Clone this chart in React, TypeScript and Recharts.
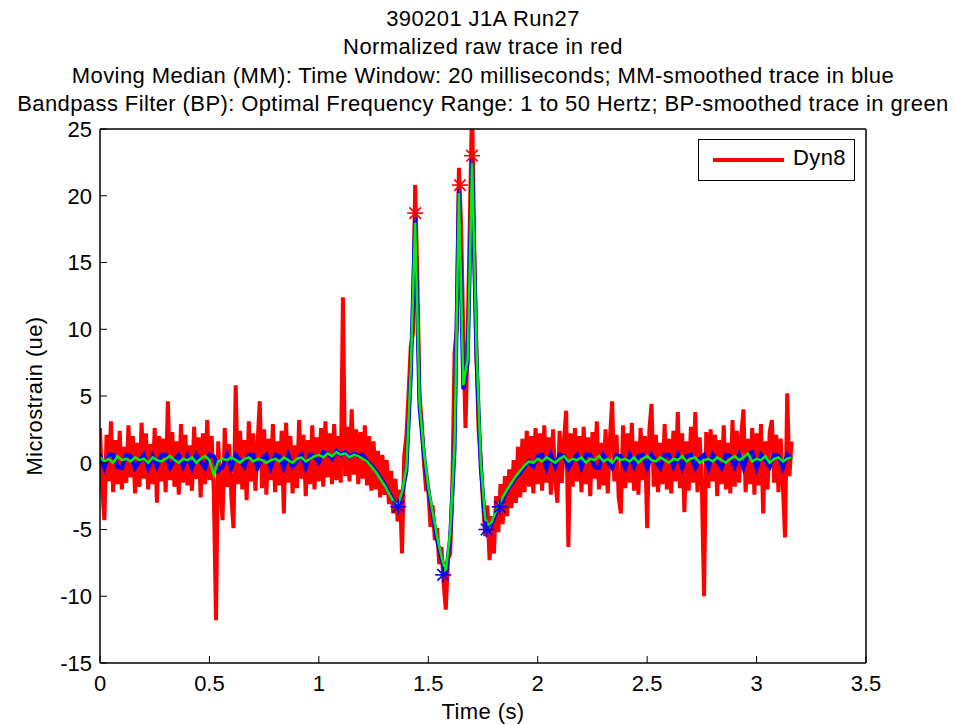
import React from 'react';
import { ComposedChart, Line, Scatter, XAxis, YAxis } from 'recharts';

const FONT = '"Liberation Sans", Arial, Helvetica, sans-serif';

// Raw trace (red), sampled every RAW_DT seconds starting at 0
const RAW_DT = 0.01;
const rawValues: number[] = [
  2.6, -1.9, -4.3, 2.1, -1.4, 3.1, -2.2, 1.7, -1.6, 2.4,
  -2.0, 1.2, -1.5, 2.8, -1.1, 2.0, -2.3, 1.5, -1.8, 3.0,
  -1.2, 2.2, -2.0, 1.4, -1.6, 2.6, -3.0, 2.0, -1.4, 1.8,
  -2.2, 4.6, -1.3, 2.3, -1.8, 1.6, -2.4, 2.9, -1.5, 2.1,
  -1.7, 1.3, -2.1, 2.7, -1.2, 1.9, -2.6, 2.2, -1.6, 3.2,
  -1.3, 2.0, -2.2, -11.8, 1.6, -2.0, -4.3, 2.6, -1.8, 1.4,
  -2.5, -4.9, 5.8, -1.6, 2.4, -2.0, 1.7, -2.8, 3.1, -1.4,
  2.2, -2.1, 1.5, 4.6, -1.9, 2.5, -2.4, 1.8, -1.3, 2.9,
  -2.2, 1.6, -1.7, 2.4, -3.8, 3.0, -1.5, 2.0, -2.3, 1.3,
  -1.9, 3.2, -1.2, 2.1, -2.5, 1.7, -1.6, 2.8, -2.0, 1.9,
  -1.4, 2.6, -1.8, 3.1, -1.1, 2.2, -1.6, 2.9, -1.3, 2.0,
  -1.5, 12.4, -1.0, 2.7, -1.4, 4.0, -0.9, 2.5, -1.6, 2.3,
  -1.2, 2.8, -1.7, 2.0, -2.1, 1.6, -2.0, 0.9, -2.6, 0.6,
  -2.4, 0.2, -3.1, -0.6, -3.8, -1.2, -4.4, -2.0, -6.8, 0.5,
  2.0, 5.2, 8.7, 9.7, 20.8, 13.9, 5.0, 3.0, 0.0, -2.0,
  -2.0, -4.8, -3.2, -5.8, -4.9, -7.6, -6.3, -9.0, -11.0, -7.2,
  -6.8, -1.8, 8.2, 10.0, 22.1, 17.7, 9.4, 2.6, 9.4, 18.2,
  27.0, 16.0, 8.2, 2.5, 0.2, -3.0, -5.5, -3.2, -7.3, -4.0,
  -6.8, -2.5, -5.2, -1.6, -4.6, -1.0, -4.0, -0.5, -3.4, 0.2,
  -3.0, 1.2, -2.6, 1.8, -2.2, 2.4, -1.8, 2.0, -2.3, 2.6,
  -1.6, 2.2, -2.1, 2.8, -1.5, 1.9, -2.4, 2.5, -1.3, -3.0,
  2.4, -1.5, 1.7, 3.9, -6.3, 2.2, -1.8, 2.6, -1.4, 2.0,
  -2.2, 2.7, -1.6, 1.9, -2.5, 2.3, -1.2, 3.1, -2.0, 1.5,
  -1.7, 2.5, -2.3, 1.8, 4.6, -1.4, 2.1, -2.6, -3.8, 2.8,
  -1.9, 2.2, -1.5, 3.0, -2.1, 1.6, -2.4, 2.6, -1.3, 2.0,
  -4.9, 2.4, 4.4, -1.8, 2.1, -2.2, 1.5, -1.6, 2.9, -2.0,
  1.8, -2.3, 2.4, -1.4, 3.8, -1.9, 2.2, -3.7, 1.6, -2.1,
  2.7, -1.5, 3.8, -2.2, 1.9, -1.7, -10.0, 2.3, -1.9, 2.5,
  -1.4, 2.1, -2.5, 1.7, -1.6, 2.8, -2.0, 1.5, -2.3, 3.2,
  -1.8, 2.4, -1.5, 2.0, 4.0, -2.2, 1.8, -1.6, 2.6, -2.4,
  2.2, -1.7, 2.9, -3.8, 1.6, -2.0, 2.3, 3.2, -1.5, 2.1,
  -2.2, 1.8, -1.6, -5.6, 5.2, -1.0, 1.6,
];

// Smoothed traces, sampled every SMOOTH_DT seconds starting at 0
const SMOOTH_DT = 0.02;
const mmValues: number[] = [
  0.6, -0.4, 0.6, 0.6, -0.3, -0.4, 0.6, 0.5, -0.4, 0.1,
  0.6, -0.4, 0.5, -0.3, 0.6, 0.6, -0.4, 0.2, 0.6, -0.3,
  0.5, -0.4, 0.6, 0.1, -0.4, 0.6, 0.5, -0.6, -0.3, 0.6,
  -0.4, 0.6, 0.2, -0.3, 0.6, 0.6, -0.4, 0.3, 0.6, -0.4,
  0.6, 0.5, -0.4, 0.6, -0.3, 0.1, 0.6, -0.4, 0.6, 0.5,
  0.0, 0.8, 0.7, 0.3, 0.9, 0.6, 0.8, 0.4, 0.7, 0.5,
  0.6, 0.1, -0.2, -0.6, -1.1, -1.6, -2.2, -2.8, -3.3, -2.4,
  -0.6, 6.5, 18.4, 4.2, 0.6, -2.0, -3.9, -5.8, -7.2, -8.4,
  -5.6, 1.0, 20.5, 5.5, 7.5, 22.8, 8.0, -0.4, -4.5, -5.0,
  -4.2, -3.3, -2.8, -2.1, -1.6, -1.1, -0.8, -0.3, 0.1, -0.3,
  0.5, 0.6, -0.4, 0.6, -0.3, 0.6, 0.5, -0.4, 0.2, 0.6,
  -0.4, 0.6, 0.6, -0.3, -0.4, 0.6, 0.1, -0.4, 0.6, 0.5,
  -0.4, 0.6, -0.3, 0.5, 0.6, -0.4, 0.6, 0.1, -0.4, 0.6,
  0.6, -0.3, 0.6, -0.4, 0.5, 0.6, -0.4, 0.3, 0.6, -0.4,
  0.6, 0.1, -0.4, 0.6, 0.5, -0.3, 0.6, -0.4, 0.6, 0.8,
  -0.4, 0.6, 0.2, -0.3, 0.6, 0.5, -0.4, 0.6, 0.3,
];
const bpValues: number[] = [
  0.4, 0.1, 0.3, 0.0, 0.5, 0.2, 0.3, 0.1, 0.4, 0.2,
  0.3, 0.0, 0.4, 0.2, 0.1, 0.3, 0.5, 0.2, 0.0, 0.3,
  0.2, 0.4, 0.0, 0.3, 0.5, 0.2, -0.9, 0.1, 0.3, 0.2,
  0.4, 0.2, 0.0, 0.3, 0.4, 0.1, 0.3, 0.2, 0.0, 0.2,
  0.3, 0.1, 0.4, 0.2, 0.0, 0.3, 0.4, 0.1, 0.3, 0.5,
  0.6, 0.4, 0.7, 0.5, 0.8, 0.6, 0.7, 0.4, 0.6, 0.5,
  0.3, 0.1, -0.3, -0.7, -1.2, -1.7, -2.3, -2.9, -3.2, -2.2,
  -0.3, 7.0, 18.0, 4.5, 0.8, -1.8, -3.7, -5.5, -7.0, -8.2,
  -5.2, 1.5, 20.2, 5.8, 7.8, 22.5, 8.6, 0.0, -4.2, -4.8,
  -4.0, -3.2, -2.6, -2.0, -1.5, -1.0, -0.6, -0.2, 0.1, 0.0,
  0.3, 0.1, 0.4, 0.2, 0.0, 0.3, 0.5, 0.1, 0.3, 0.2,
  0.4, 0.0, 0.3, 0.2, 0.5, 0.1, 0.3, 0.0, 0.4, 0.2,
  0.3, 0.1, 0.4, 0.0, 0.3, 0.5, 0.2, 0.1, 0.4, 0.2,
  0.0, 0.3, 0.2, 0.5, 0.1, 0.3, 0.4, 0.0, 0.2, 0.3,
  0.1, 0.4, 0.2, 0.0, 0.3, 0.5, 0.2, 0.4, 0.7, 0.1,
  0.3, 0.2, 0.5, 0.0, 0.3, 0.4, 0.1, 0.3, 0.4,
];

// Detected peaks (red asterisks) and troughs (blue asterisks)
const peakTimes = [1.44, 1.645, 1.70];
const peakValues = [18.7, 20.8, 23.0];
const troughTimes = [1.363, 1.568, 1.766, 1.827];
const troughValues = [-3.3, -8.4, -5.0, -3.3];

const xTicks = [0, 0.5, 1, 1.5, 2, 2.5, 3, 3.5];
const yTicks = [-15, -10, -5, 0, 5, 10, 15, 20, 25];

const titleLines = [
  '390201 J1A Run27',
  'Normalized raw trace in red',
  'Moving Median (MM): Time Window: 20 milliseconds; MM-smoothed trace in blue',
  'Bandpass Filter (BP): Optimal Frequency Range: 1 to 50 Hertz; BP-smoothed trace in green',
];
const legendName = 'Dyn8';

const toSeries = (vals: number[], dt: number) =>
  vals.map((v, i) => ({ t: Math.round(i * dt * 1000) / 1000, v }));

const rawData = toSeries(rawValues, RAW_DT);
const mmData = toSeries(mmValues, SMOOTH_DT);
const bpData = toSeries(bpValues, SMOOTH_DT);
const peakData = peakTimes.map((t, i) => ({ t, v: peakValues[i] }));
const troughData = troughTimes.map((t, i) => ({ t, v: troughValues[i] }));

const makeAsterisk = (color: string) => (props: any) => {
  const { cx, cy } = props;
  if (cx == null || cy == null) return <g />;
  const r = 8;
  const d = r * 0.72;
  return (
    <g stroke={color} strokeWidth={1.6} fill="none">
      <line x1={cx - r} y1={cy} x2={cx + r} y2={cy} />
      <line x1={cx} y1={cy - r} x2={cx} y2={cy + r} />
      <line x1={cx - d} y1={cy - d} x2={cx + d} y2={cy + d} />
      <line x1={cx - d} y1={cy + d} x2={cx + d} y2={cy - d} />
    </g>
  );
};

const axisLine = { stroke: '#000', strokeWidth: 1.5 };
const tickLine = { stroke: '#000', strokeWidth: 1 };
const tickStyle = { fill: '#000', fontSize: 22, fontFamily: FONT };
const textSpacing = '0.4px';

export default function App() {
  return (
    <div style={{ position: 'absolute', left: 0, top: 0, width: 954, height: 725, background: '#fff', fontFamily: FONT }}>
      <ComposedChart
        width={954}
        height={725}
        margin={{ top: 119, right: 78, bottom: 22, left: 40 }}
      >
        <XAxis
          dataKey="t"
          type="number"
          domain={[0, 3.5]}
          ticks={xTicks}
          interval={0}
          allowDataOverflow
          height={40}
          tickSize={-7}
          tickMargin={19}
          axisLine={axisLine}
          tickLine={tickLine}
          tick={tickStyle}
        />
        <XAxis
          xAxisId="top"
          orientation="top"
          type="number"
          domain={[0, 3.5]}
          ticks={xTicks}
          interval={0}
          allowDataOverflow
          height={10}
          tickSize={-7}
          axisLine={axisLine}
          tickLine={tickLine}
          tick={false}
        />
        <YAxis
          type="number"
          domain={[-15, 25]}
          ticks={yTicks}
          interval={0}
          allowDataOverflow
          width={60}
          tickSize={-7}
          tickMargin={15}
          axisLine={axisLine}
          tickLine={tickLine}
          tick={tickStyle}
        />
        <YAxis
          yAxisId="right"
          orientation="right"
          type="number"
          domain={[-15, 25]}
          ticks={yTicks}
          interval={0}
          allowDataOverflow
          width={10}
          tickSize={-7}
          axisLine={axisLine}
          tickLine={tickLine}
          tick={false}
        />
        <Line
          data={rawData}
          dataKey="v"
          type="linear"
          stroke="#ff0000"
          strokeWidth={4}
          dot={false}
          activeDot={false}
          isAnimationActive={false}
        />
        <Line
          data={mmData}
          dataKey="v"
          type="linear"
          stroke="#0000ff"
          strokeWidth={4}
          dot={false}
          activeDot={false}
          isAnimationActive={false}
        />
        <Line
          data={bpData}
          dataKey="v"
          type="linear"
          stroke="#00f000"
          strokeWidth={2.5}
          dot={false}
          activeDot={false}
          isAnimationActive={false}
        />
        <Scatter data={peakData} dataKey="v" shape={makeAsterisk('#ff0000')} isAnimationActive={false} />
        <Scatter data={troughData} dataKey="v" shape={makeAsterisk('#0000ff')} isAnimationActive={false} />
      </ComposedChart>

      <div
        style={{
          position: 'absolute', left: 0, top: 4.8, width: 966, textAlign: 'center',
          fontSize: 22, lineHeight: '28.4px', color: '#000', whiteSpace: 'pre', letterSpacing: textSpacing,
        }}
      >
        {titleLines.map((l) => (
          <div key={l}>{l}</div>
        ))}
      </div>

      <div
        style={{
          position: 'absolute', left: 383, top: 698, width: 200, textAlign: 'center',
          fontSize: 22, lineHeight: '28px', color: '#000', letterSpacing: textSpacing,
        }}
      >
        Time (s)
      </div>
      <div
        style={{
          position: 'absolute', left: 35 - 100, top: 396 - 14, width: 200, textAlign: 'center',
          fontSize: 22, lineHeight: '28px', color: '#000', transform: 'rotate(-90deg)', letterSpacing: textSpacing,
        }}
      >
        Microstrain (ue)
      </div>

      <div
        style={{
          position: 'absolute', left: 698, top: 139, width: 157, height: 42,
          boxSizing: 'border-box', border: '1.5px solid #000', background: '#fff',
        }}
      >
        <div style={{ position: 'absolute', left: 14, top: 18, width: 71, height: 3.5, background: '#ff0000' }} />
        <div style={{ position: 'absolute', left: 94, top: 4, fontSize: 22, lineHeight: '28px', color: '#000', letterSpacing: textSpacing }}>
          {legendName}
        </div>
      </div>
    </div>
  );
}
